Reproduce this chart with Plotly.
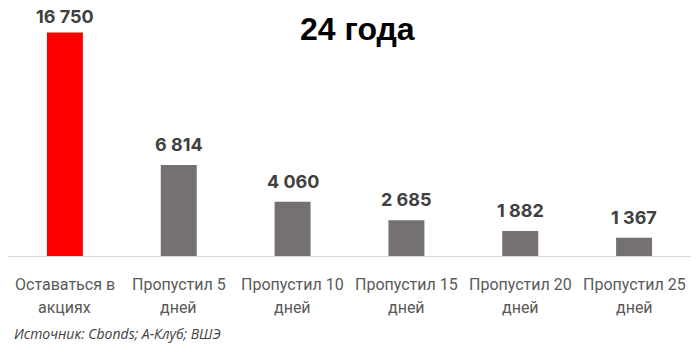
import plotly.graph_objects as go

categories_line1 = ["Оставаться в", "Пропустил 5", "Пропустил 10", "Пропустил 15", "Пропустил 20", "Пропустил 25"]
categories_line2 = ["акциях", "дней", "дней", "дней", "дней", "дней"]
values = [16750, 6814, 4060, 2685, 1882, 1367]
colors = ["#FF0000", "#767171", "#767171", "#767171", "#767171", "#767171"]
title_text = "24 года"
source_text = "Источник: Cbonds; А-Клуб; ВШЭ"

cats = [f"{a} {b}" for a, b in zip(categories_line1, categories_line2)]

def fmt(v):
    return f"{v:,}".replace(",", " ")

fig = go.Figure(go.Bar(
    x=cats, y=values, marker=dict(color=colors, line=dict(width=0)),
    hoverinfo="skip",
))

ann = []
for i, (c, v) in enumerate(zip(cats, values)):
    ann.append(dict(x=c, y=v, xref="x", yref="y", text=fmt(v), showarrow=False,
                    yanchor="bottom", yshift=4 if i == 0 else 8,
                    font=dict(family="Inter", size=18, color="#404040", weight="bold")))
for c, l1, l2 in zip(cats, categories_line1, categories_line2):
    ann.append(dict(x=c, y=-0.1167, xref="x", yref="paper", text=l1, showarrow=False,
                    yanchor="middle", font=dict(family="Roboto", size=16, color="#595959")))
    ann.append(dict(x=c, y=-0.2125, xref="x", yref="paper", text=l2, showarrow=False,
                    yanchor="middle", font=dict(family="Roboto", size=16, color="#595959")))
ann.append(dict(x=0.511, y=0.945, xref="paper", yref="paper", text=f"<b>{title_text}</b>",
                showarrow=False, xanchor="center", yanchor="middle",
                font=dict(family="Liberation Sans", size=32, color="#000000")))
ann.append(dict(x=0.006, y=-0.321, xref="paper", yref="paper", text=f"<i>{source_text}</i>",
                showarrow=False, xanchor="left", yanchor="middle",
                font=dict(family="Open Sans", size=14, color="#404040")))

fig.update_layout(
    width=700, height=351,
    margin=dict(l=8, r=9, t=16, b=95),
    paper_bgcolor="white", plot_bgcolor="white",
    bargap=0.684,
    showlegend=False,
    annotations=ann,
    xaxis=dict(showticklabels=False, showgrid=False, showline=True, linecolor="#D9D9D9",
               linewidth=1, ticks="", fixedrange=True),
    yaxis=dict(range=[0, 17987], showticklabels=False, showgrid=False, zeroline=False,
               showline=False, fixedrange=True),
)

fig.write_html("out.html")
